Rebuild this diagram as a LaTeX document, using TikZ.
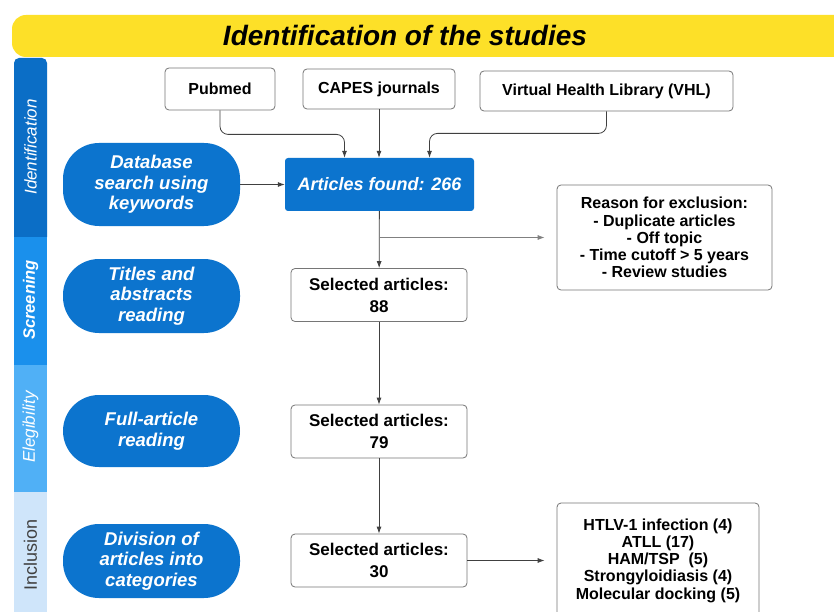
\documentclass[tikz,border=0pt]{standalone}
\usepackage{fontspec}
\setmainfont{Liberation Sans}
\usetikzlibrary{arrows.meta,positioning,calc}

\definecolor{bannerYellow}{RGB}{253,224,40}
\definecolor{idBlue}{RGB}{11,110,198}
\definecolor{pillBlue}{RGB}{12,116,206}
\definecolor{scrBlue}{RGB}{26,144,236}
\definecolor{eleBlue}{RGB}{80,176,246}
\definecolor{incBlue}{RGB}{207,229,250}
\definecolor{lineGray}{RGB}{64,64,64}
\definecolor{edgeGray}{RGB}{118,118,118}

\begin{document}
\begin{tikzpicture}[x=1pt, y=-1pt,
    src/.style={rectangle, draw=edgeGray, line width=0.8pt, rounded corners=4pt, fill=white,
                minimum height=40pt, inner sep=0pt,
                font=\fontsize{16}{19}\selectfont\bfseries},
    pill/.style={rectangle, fill=pillBlue, rounded corners=36pt, minimum width=177pt,
                 align=center, text=white, inner sep=0pt,
                 font=\fontsize{18.5}{20.5}\selectfont\bfseries\itshape},
    found/.style={rectangle, fill=pillBlue, rounded corners=3pt, minimum width=189pt,
                  minimum height=53pt, text=white, inner sep=0pt,
                  font=\fontsize{18}{20}\selectfont\bfseries\itshape},
    count/.style={rectangle, draw=edgeGray, line width=0.8pt, rounded corners=4pt, fill=white,
                  minimum width=176pt, minimum height=53pt, align=center, inner sep=0pt,
                  font=\fontsize{17}{22}\selectfont\bfseries},
    note/.style={rectangle, draw=edgeGray, line width=0.8pt, rounded corners=4pt, fill=white,
                 align=center, inner sep=0pt,
                 font=\fontsize{16}{17.2}\selectfont\bfseries},
    phase/.style={rotate=90, font=\fontsize{17}{19}\selectfont\itshape, text=white},
    arr/.style={-{Latex[length=7pt,width=5pt]}, draw=lineGray, line width=0.8pt}
  ]

  \fill[white] (0,0) rectangle (834,612);
  \useasboundingbox (0,0) rectangle (834,612);

  % Title banner
  \fill[bannerYellow, rounded corners=14pt] (12,15) rectangle (860,57);
  \node[font=\fontsize{28}{32}\selectfont\bfseries\itshape] (title) at (405,36) {Identification of the studies};

  % Phase bar
  \fill[idBlue] (14,237) [rounded corners=5pt] -- (14,58) -- (47,58) [sharp corners] -- (47,237) -- cycle;
  \fill[scrBlue] (14,237) rectangle (47,365);
  \fill[eleBlue] (14,365) rectangle (47,492);
  \fill[incBlue] (14,492) rectangle (47,620);
  \node[phase] (pid) at (30.5,147) {Identification};
  \node[phase, font=\fontsize{16.5}{19}\selectfont\bfseries\itshape] (pscr) at (30.5,300) {Screening};
  \node[phase] (pele) at (30.5,427) {Elegibility};
  \node[phase, font=\fontsize{18}{20}\selectfont, text=black!75] (pinc) at (30.5,555) {Inclusion};

  % Sources
  \node[src, minimum width=110pt, minimum height=42pt] (pub) at (220,89) {Pubmed};
  \node[src, minimum width=152pt] (capes) at (379,89) {CAPES journals};
  \node[src, minimum width=253pt] (vhl) at (606.5,91) {Virtual Health Library (VHL)};

  % Main column
  \node[found] (fnd) at (379.5,184.5) {Articles found: 266};
  \node[count] (s88) at (379,295) {Selected articles:\\88};
  \node[count] (s79) at (379,431.5) {Selected articles:\\79};
  \node[count] (s30) at (379,560.5) {Selected articles:\\30};

  % Steps
  \node[pill, minimum height=83pt] (dbs) at (151.5,184.5) {Database\\search using\\keywords};
  \node[pill, minimum height=74pt] (tar) at (151.5,296) {Titles and\\abstracts\\reading};
  \node[pill, minimum height=72pt] (far) at (151.5,431) {Full-article\\reading};
  \node[pill, minimum height=74pt] (dac) at (151.5,561) {Division of\\articles into\\categories};

  % Side boxes
  \node[note, minimum width=215pt, minimum height=105pt] (excl) at (664.5,237.5)
    {Reason for exclusion:\\- Duplicate articles\\- Off topic\\- Time cutoff > 5 years\\- Review studies};
  \node[note, minimum width=202pt, minimum height=115pt] (cat) at (658,560.5)
    {HTLV-1 infection (4)\\ATLL (17)\\HAM/TSP\ \ (5)\\Strongyloidiasis (4)\\Molecular docking (5)};

  % Connectors
  \draw[arr, rounded corners=8pt] (pub.south) -- ++(0,24) -| ([xshift=-35pt]fnd.north);
  \draw[arr] (capes) -- (capes |- fnd.north);
  \draw[arr, rounded corners=8pt] (vhl.south) -- ++(0,22) -| ([xshift=50pt]fnd.north);
  \draw[arr] (dbs) -- (fnd);
  \draw[arr] (fnd) -- (s88);
  \draw[arr, draw=gray] (fnd.south |- excl.west) -- ([xshift=-12pt]excl.west);
  \draw[arr] (s88) -- (s79);
  \draw[arr] (s79) -- (s30);
  \draw[arr] (s30) -- ([xshift=-12pt]cat.west);

\end{tikzpicture}
\end{document}
